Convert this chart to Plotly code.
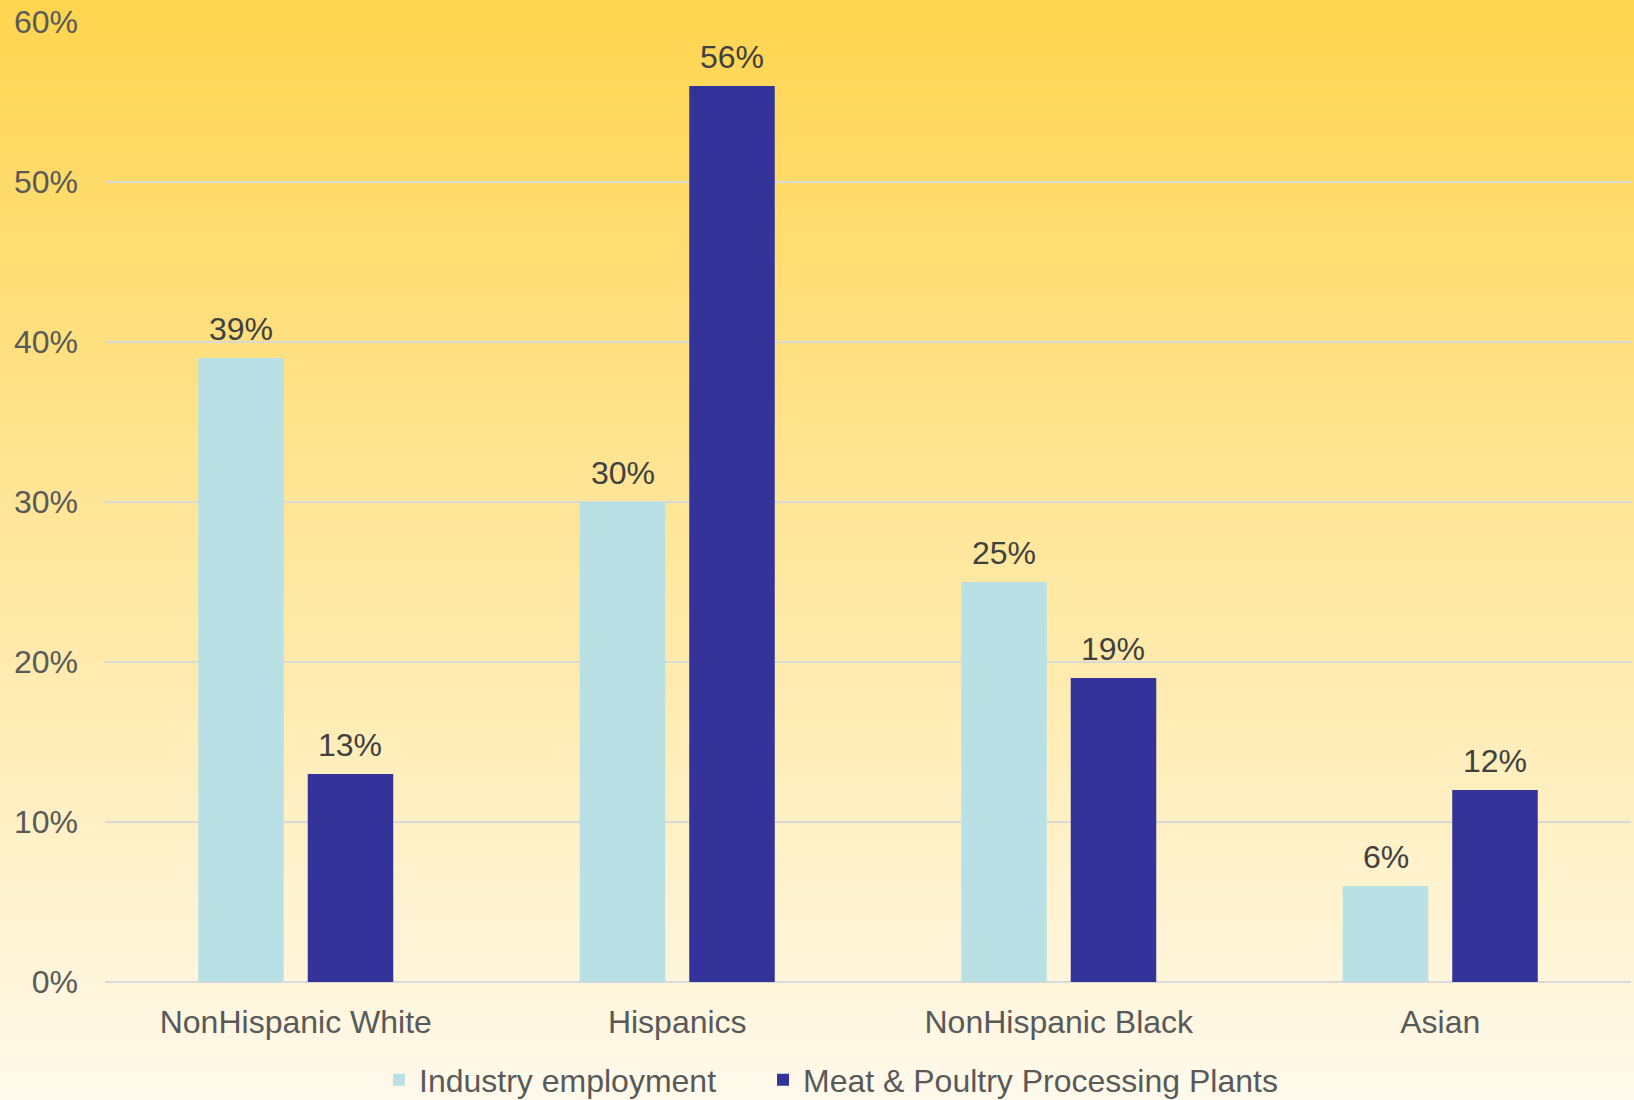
import plotly.graph_objects as go

categories = ["NonHispanic White", "Hispanics", "NonHispanic Black", "Asian"]
industry_employment = [39, 30, 25, 6]
meat_poultry = [13, 56, 19, 12]
series_names = ["Industry employment", "Meat & Poultry Processing Plants"]
tick_vals = [0, 10, 20, 30, 40, 50, 60]
tick_text = ["0%", "10%", "20%", "30%", "40%", "50%", "60%"]

FONT = "Liberation Sans, Arial, sans-serif"
FS = 32
W, H = 1634, 1100
ML, MR, MT, MB = 105, 3, 22, 118

fig = go.Figure()
fig.add_trace(go.Bar(
    x=categories, y=industry_employment, name=series_names[0],
    marker=dict(color="#B9E0E5", line=dict(width=0)), legend="legend",
))
fig.add_trace(go.Bar(
    x=categories, y=meat_poultry, name=series_names[1],
    marker=dict(color="#333399", line=dict(width=0)), legend="legend2",
))

# value labels above each bar
annotations = []
pw = W - ML - MR
slot = pw / len(categories)
bargap, bargroupgap = 0.426, 0.219
half_slot = slot * (1 - bargap) / 4
for vals, sgn in ((industry_employment, -1), (meat_poultry, 1)):
    for c, v in zip(categories, vals):
        annotations.append(dict(x=c, y=v, xref="x", yref="y", text=f"{v}%",
                                showarrow=False, xshift=sgn * half_slot, yshift=29,
                                yanchor="middle", xanchor="center",
                                font=dict(size=FS, color="#404040", family=FONT)))

# background vertical gradient (style only)
top = (255, 213, 80)
bot = (255, 249, 235)
n = 80
ph = H - MT - MB
y_lo = -MB / ph
y_hi = 1 + MT / ph
shapes = []
for i in range(n):
    t = i / (n - 1)
    c = tuple(round(top[k] + (bot[k] - top[k]) * t) for k in range(3))
    y1 = y_hi - (y_hi - y_lo) * i / n
    y0 = y_hi - (y_hi - y_lo) * (i + 1) / n - 0.002
    shapes.append(dict(type="rect", xref="paper", yref="paper",
                       x0=-ML / pw - 0.01, x1=1 + MR / pw + 0.01,
                       y0=y0, y1=y1, fillcolor="rgb(%d,%d,%d)" % c,
                       line=dict(width=0), layer="below"))

legend_common = dict(orientation="h", xref="container", yref="container",
                     xanchor="left", y=20 / H, yanchor="middle",
                     font=dict(size=FS, color="#595959", family=FONT),
                     bgcolor="rgba(0,0,0,0)", itemwidth=30, tracegroupgap=0)

fig.update_layout(
    width=W, height=H,
    margin=dict(l=ML, r=MR, t=MT, b=MB, autoexpand=False),
    paper_bgcolor="rgb(255,249,235)",
    plot_bgcolor="rgba(0,0,0,0)",
    shapes=shapes,
    annotations=annotations,
    barmode="group", bargap=bargap, bargroupgap=bargroupgap,
    font=dict(family=FONT, size=FS, color="#595959"),
    showlegend=True,
    legend=dict(x=379 / W, **legend_common),
    legend2=dict(x=763 / W, **legend_common),
    xaxis=dict(showgrid=False, showline=False, ticks="", automargin=False,
               tickfont=dict(size=FS, color="#595959", family=FONT),
               ticklabelstandoff=18),
    yaxis=dict(range=[0, 60], tickvals=tick_vals, ticktext=tick_text,
               automargin=False,
               showgrid=True, gridcolor="#D9D9D9", gridwidth=2,
               zeroline=True, zerolinecolor="#D9D9D9", zerolinewidth=2,
               showline=False, ticks="",
               tickfont=dict(size=FS, color="#595959", family=FONT),
               ticklabelstandoff=26),
)

fig.write_html("out.html")
